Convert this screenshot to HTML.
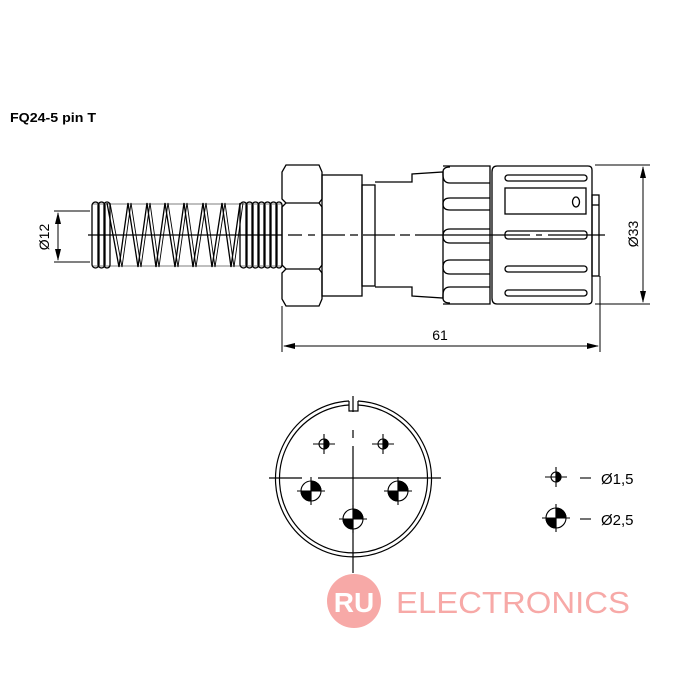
<!DOCTYPE html>
<html><head><meta charset="utf-8"><style>
body{margin:0;background:#fff}
svg{display:block}
text{font-family:"Liberation Sans",Arial,sans-serif}
</style></head><body>
<svg width="700" height="700" viewBox="0 0 700 700" xmlns="http://www.w3.org/2000/svg">
<rect width="700" height="700" fill="#fff"/>
<text x="10" y="122" font-size="13" font-weight="bold" fill="#000" textLength="86" lengthAdjust="spacingAndGlyphs">FQ24-5 pin T</text>

<g fill="none" stroke="#000" stroke-width="1.3">
<!-- spring -->
<line x1="92" y1="204" x2="282" y2="204" stroke-width="0.6"/>
<line x1="92" y1="266" x2="282" y2="266" stroke-width="0.6"/>
<rect x="92" y="202" width="7" height="66" rx="3.5"/>
<rect x="98" y="202" width="7" height="66" rx="3.5"/>
<rect x="104" y="202" width="6" height="66" rx="3"/>
<path d="M107 203 L119 267 L128 203 L138 267 L147 203 L156 267 L165 203 L175 267 L184 203 L193 267 L203 203 L212 267 L222 203 L231 267 L240 203"/>
<path d="M110 203 L122 267 L131 203 L141 267 L150 203 L159 267 L168 203 L178 267 L187 203 L196 267 L206 203 L215 267 L225 203 L234 267 L243 203" stroke-width="0.9"/>
<rect x="240" y="202" width="7" height="66" rx="3.5"/>
<rect x="246" y="202" width="7" height="66" rx="3.5"/>
<rect x="252" y="202" width="7" height="66" rx="3.5"/>
<rect x="258" y="202" width="7" height="66" rx="3.5"/>
<rect x="264" y="202" width="7" height="66" rx="3.5"/>
<rect x="270" y="202" width="7" height="66" rx="3.5"/>
<rect x="276" y="202" width="6" height="66" rx="3"/>
<!-- hex nut -->
<path d="M286 165 L319 165 L322 172 L322 199 L319 203 L322 207 L322 265 L319 269 L322 273 L322 299 L319 306 L286 306 L282 299 L282 273 L286 269 L282 265 L282 207 L286 203 L282 199 L282 172 Z"/>
<line x1="286" y1="203" x2="319" y2="203"/>
<line x1="286" y1="269" x2="319" y2="269"/>
<!-- body -->
<rect x="322" y="175" width="40" height="121"/>
<rect x="362" y="185" width="13" height="101"/>
<path d="M375 182 L412 182 L412 174 L443 172 L443 298 L412 296 L412 287 L375 287"/>
<!-- grip -->
<path d="M443 166 L490 166 L490 304 L443 304"/>
<path d="M490 183 L450 183 Q443 183 443 175 L443 172 Q443 167 450 167"/>
<path d="M490 198 L450 198 Q443 198 443 204 Q443 210 450 210 L490 210"/>
<path d="M490 229 L450 229 Q443 229 443 236 Q443 243 450 243 L490 243"/>
<path d="M490 260 L450 260 Q443 260 443 267 Q443 274 450 274 L490 274"/>
<path d="M490 287 L450 287 Q443 287 443 295 L443 298 Q443 303 450 303"/>
<!-- coupling nut -->
<path d="M497 166 L588 166 Q592 166 592 170 L592 300 Q592 304 588 304 L497 304 Q492 304 492 298 L492 172 Q492 166 497 166 Z"/>
<rect x="505" y="175" width="82" height="6" rx="3"/>
<rect x="505" y="188" width="81" height="26"/>
<ellipse cx="576" cy="202" rx="3.5" ry="5"/>
<rect x="505" y="231" width="82" height="8" rx="3"/>
<rect x="505" y="266" width="82" height="6" rx="3"/>
<rect x="505" y="290" width="82" height="6" rx="3"/>
<rect x="592" y="195" width="7" height="81"/>
<line x1="592" y1="205" x2="599" y2="205"/>
<!-- centerline -->
<path d="M88 235 L282 235 M288 235 L302 235 M308 235 L315 235 M322 235 L345 235 M350 235 L358 235 M363 235 L395 235 M400 235 L410 235 M415 235 L530 235 M536 235 L542 235 M548 235 L605 235" stroke-width="1.2"/>
</g>

<!-- dimensions -->
<g stroke="#000" stroke-width="1" fill="none">
<line x1="54" y1="211" x2="90" y2="211"/>
<line x1="54" y1="262" x2="90" y2="262"/>
<line x1="58" y1="213" x2="58" y2="260"/>
<line x1="595" y1="165" x2="650" y2="165"/>
<line x1="595" y1="304" x2="650" y2="304"/>
<line x1="643" y1="167" x2="643" y2="302"/>
<line x1="282" y1="306" x2="282" y2="352"/>
<line x1="600" y1="276" x2="600" y2="352"/>
<line x1="284" y1="346" x2="598" y2="346"/>
</g>
<g fill="#000">
<path d="M58 212 L55 224 L61 224 Z"/>
<path d="M58 261 L55 249 L61 249 Z"/>
<path d="M643 166 L640 178 L646 178 Z"/>
<path d="M643 303 L640 291 L646 291 Z"/>
<path d="M283 346 L295 343 L295 349 Z"/>
<path d="M599 346 L587 343 L587 349 Z"/>
</g>
<text x="0" y="0" font-size="14" fill="#000" transform="translate(49 237) rotate(-90)" text-anchor="middle">Ø12</text>
<text x="0" y="0" font-size="14" fill="#000" transform="translate(638 234) rotate(-90)" text-anchor="middle">Ø33</text>
<text x="440" y="340" font-size="14" fill="#000" text-anchor="middle">61</text>

<!-- watermark -->
<circle cx="354" cy="601" r="27" fill="#f7a9a7"/>
<text x="354" y="612" font-size="28" fill="#fff" text-anchor="middle" font-weight="bold">RU</text>
<text x="396" y="613" font-size="31" fill="#f7a9a7" textLength="234" lengthAdjust="spacingAndGlyphs">ELECTRONICS</text>

<!-- front view -->
<g fill="none" stroke="#000" stroke-width="1.2">
<path d="M349 401 A78 78 0 1 0 358 401"/>
<path d="M349 405 A74 74 0 1 0 358 405"/>
<path d="M349 401 L349 411 L358 411 L358 401"/>
<line x1="353" y1="396" x2="353" y2="412"/>
<line x1="353" y1="430" x2="353" y2="438"/>
<line x1="353" y1="446" x2="353" y2="573"/>
<line x1="269" y1="478" x2="302" y2="478"/>
<line x1="318" y1="478" x2="441" y2="478"/>
</g>
<g stroke="#000" stroke-width="1.1">
<g transform="translate(324 444)"><circle r="5" fill="#fff"/><path d="M0 -5 A5 5 0 0 1 0 5 Z" fill="#000"/><line x1="-11" y1="0" x2="11" y2="0"/><line x1="0" y1="-10" x2="0" y2="10"/></g>
<g transform="translate(383 444)"><circle r="5" fill="#fff"/><path d="M0 -5 A5 5 0 0 1 0 5 Z" fill="#000"/><line x1="-11" y1="0" x2="11" y2="0"/><line x1="0" y1="-10" x2="0" y2="10"/></g>
<g transform="translate(556 477)"><circle r="5" fill="#fff"/><path d="M0 -5 A5 5 0 0 1 0 5 Z" fill="#000"/><line x1="-11" y1="0" x2="11" y2="0"/><line x1="0" y1="-10" x2="0" y2="10"/></g>
<g transform="translate(311 491)"><circle r="10" fill="#fff"/><path d="M0 -10 A10 10 0 0 0 -10 0 L0 0 Z M0 10 A10 10 0 0 0 10 0 L0 0 Z" fill="#000" transform="rotate(90)"/><line x1="-14" y1="0" x2="14" y2="0"/><line x1="0" y1="-14" x2="0" y2="14"/></g>
<g transform="translate(398 491)"><circle r="10" fill="#fff"/><path d="M0 -10 A10 10 0 0 0 -10 0 L0 0 Z M0 10 A10 10 0 0 0 10 0 L0 0 Z" fill="#000" transform="rotate(90)"/><line x1="-14" y1="0" x2="14" y2="0"/><line x1="0" y1="-14" x2="0" y2="14"/></g>
<g transform="translate(353 519)"><circle r="10" fill="#fff"/><path d="M0 -10 A10 10 0 0 0 -10 0 L0 0 Z M0 10 A10 10 0 0 0 10 0 L0 0 Z" fill="#000" transform="rotate(90)"/><line x1="-14" y1="0" x2="14" y2="0"/><line x1="0" y1="-14" x2="0" y2="14"/></g>
<g transform="translate(556 518)"><circle r="10" fill="#fff"/><path d="M0 -10 A10 10 0 0 0 -10 0 L0 0 Z M0 10 A10 10 0 0 0 10 0 L0 0 Z" fill="#000" transform="rotate(90)"/><line x1="-14" y1="0" x2="14" y2="0"/><line x1="0" y1="-14" x2="0" y2="14"/></g>
<line x1="580" y1="478" x2="591" y2="478"/>
<line x1="580" y1="519" x2="591" y2="519"/>
</g>
<text x="601" y="484" font-size="15" fill="#000">Ø1,5</text>
<text x="601" y="525" font-size="15" fill="#000">Ø2,5</text>
</svg>
</body></html>
